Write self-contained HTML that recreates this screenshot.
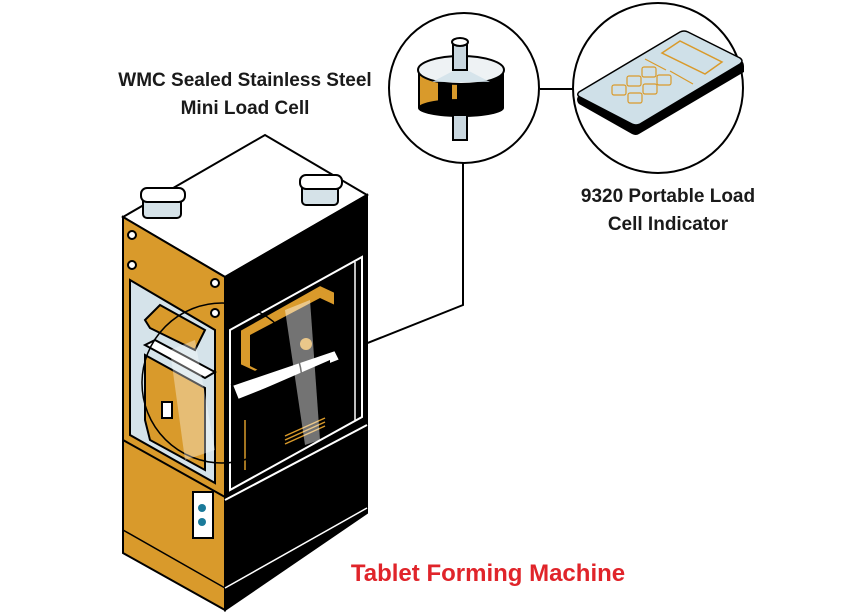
<!DOCTYPE html>
<html><head><style>
html,body{margin:0;padding:0;background:#fff;}
svg{display:block;}
text{font-family:"Liberation Sans",sans-serif;font-weight:bold;}
</style></head><body>
<svg width="852" height="613" viewBox="0 0 852 613" xmlns="http://www.w3.org/2000/svg">
<rect width="852" height="613" fill="#fff"/>
<text x="245" y="86" font-size="19" fill="#1a1a1a" text-anchor="middle">WMC Sealed Stainless Steel</text>
<text x="245" y="114" font-size="19" fill="#1a1a1a" text-anchor="middle">Mini Load Cell</text>
<text x="668" y="202" font-size="19" fill="#1a1a1a" text-anchor="middle">9320 Portable Load</text>
<text x="668" y="230" font-size="19" fill="#1a1a1a" text-anchor="middle">Cell Indicator</text>
<text x="488" y="581" font-size="24" fill="#e0242a" text-anchor="middle">Tablet Forming Machine</text>

<line x1="540" y1="89" x2="573" y2="89" stroke="#000" stroke-width="2"/>
<polyline points="463,163 463,305 355,348" fill="none" stroke="#000" stroke-width="2"/>

<!-- circle 1: load cell -->
<circle cx="464" cy="88" r="75" fill="#fff" stroke="#000" stroke-width="2"/>
<rect x="418" y="70" width="86" height="38" fill="#000"/>
<rect x="420" y="75" width="18" height="36" fill="#d99a2b"/>
<rect x="452" y="79" width="5" height="34" fill="#d99a2b"/>
<ellipse cx="461" cy="108" rx="43" ry="9" fill="#000"/>
<ellipse cx="461" cy="70" rx="43" ry="14" fill="#eef2f4" stroke="#000" stroke-width="2"/>
<polygon points="455,70 467,70 490,82 432,82" fill="#cfe0e8" opacity="0.8"/>
<rect x="453" y="115" width="14" height="25" fill="#c9d7df" stroke="#000" stroke-width="2"/>
<rect x="453" y="42" width="14" height="28" fill="#c9d7df" stroke="#000" stroke-width="2"/>
<ellipse cx="460" cy="42" rx="8" ry="4" fill="#fff" stroke="#000" stroke-width="2"/>

<!-- circle 2: indicator -->
<circle cx="658" cy="88" r="85" fill="#fff" stroke="#000" stroke-width="2"/>
<path d="M579,93 L680,33 Q684,31 688,33 L740,59 Q744,62 744,66 L744,72 L639,134 Q636,136 632,134 L579,104 Q577,102 577,99 Z" fill="#000"/>
<path d="M579,92 L680,32 Q684,30 688,32 L740,58 Q744,61 740,64 L640,124 Q636,126 632,124 L580,97 Q576,95 579,92 Z" fill="#cfe0e8" stroke="#000" stroke-width="1.5"/>
<polygon points="662,53 680,41 722,62 705,74" fill="none" stroke="#d99a2b" stroke-width="1.5"/>
<g fill="none" stroke="#d99a2b" stroke-width="1.2">
<rect x="612" y="85" width="14" height="10" rx="2"/>
<rect x="627" y="76" width="14" height="10" rx="2"/>
<rect x="642" y="67" width="14" height="10" rx="2"/>
<rect x="628" y="93" width="14" height="10" rx="2"/>
<rect x="643" y="84" width="14" height="10" rx="2"/>
<rect x="657" y="75" width="14" height="10" rx="2"/>
<line x1="645" y1="59" x2="666" y2="70"/>
<line x1="670" y1="71" x2="693" y2="84"/>
</g>

<!-- machine -->
<polygon points="123,217 265,135 367,195 225,277" fill="#fff" stroke="#000" stroke-width="2"/>
<rect x="143" y="196" width="38" height="22" rx="4" fill="#d5e2e8" stroke="#000" stroke-width="2"/>
<rect x="141" y="188" width="44" height="14" rx="6" fill="#fff" stroke="#000" stroke-width="2"/>
<rect x="302" y="183" width="36" height="22" rx="4" fill="#d5e2e8" stroke="#000" stroke-width="2"/>
<rect x="300" y="175" width="42" height="14" rx="6" fill="#fff" stroke="#000" stroke-width="2"/>
<polygon points="123,217 225,277 225,610 123,553" fill="#d99a2b" stroke="#000" stroke-width="2"/>
<polygon points="130,280 215,330 215,483 130,435" fill="#d5e3ea" stroke="#000" stroke-width="2"/>
<line x1="123" y1="440" x2="225" y2="497" stroke="#000" stroke-width="2"/>
<line x1="123" y1="530" x2="225" y2="588" stroke="#000" stroke-width="1.5"/>
<circle cx="132" cy="235" r="4" fill="#fff" stroke="#000" stroke-width="2"/>
<circle cx="132" cy="265" r="4" fill="#fff" stroke="#000" stroke-width="2"/>
<circle cx="215" cy="283" r="4" fill="#fff" stroke="#000" stroke-width="2"/>
<circle cx="215" cy="313" r="4" fill="#fff" stroke="#000" stroke-width="2"/>
<polygon points="145,355 205,388 205,470 150,440 145,420" fill="#d99a2b" stroke="#000" stroke-width="2"/>
<polygon points="145,345 205,378 215,372 155,340" fill="#fff" stroke="#000" stroke-width="2"/>
<polygon points="145,320 160,305 205,330 195,350 150,328" fill="#d99a2b" stroke="#000" stroke-width="2"/>
<rect x="162" y="402" width="10" height="16" fill="#fff" stroke="#000" stroke-width="2"/>
<rect x="193" y="492" width="20" height="46" fill="#fff" stroke="#000" stroke-width="2"/>
<circle cx="202" cy="508" r="4" fill="#1a7a9a"/>
<circle cx="202" cy="522" r="4" fill="#1a7a9a"/>
<polygon points="225,277 367,195 367,513 225,610" fill="#000" stroke="#000" stroke-width="2"/>
<polygon points="230,330 362,257 362,417 230,490" fill="#000" stroke="#fff" stroke-width="2"/>
<line x1="225" y1="500" x2="367" y2="425" stroke="#fff" stroke-width="2"/>
<line x1="225" y1="588" x2="367" y2="508" stroke="#fff" stroke-width="1.5"/>
<line x1="355" y1="262" x2="355" y2="420" stroke="#fff" stroke-width="1.5"/>
<polygon points="240,330 320,285 335,292 335,330 255,372 240,365" fill="#d99a2b" stroke="#000" stroke-width="2"/>
<polygon points="250,335 320,298 335,305 335,335 262,372 250,366" fill="#000"/>
<polygon points="232,385 335,350 340,360 238,400" fill="#fff" stroke="#000" stroke-width="2"/>
<polygon points="238,400 330,360 330,420 240,470" fill="#000"/>
<g stroke="#d99a2b" stroke-width="1.5">
<line x1="285" y1="440" x2="325" y2="422"/>
<line x1="285" y1="436" x2="325" y2="418"/>
<line x1="285" y1="444" x2="325" y2="426"/>
<line x1="245" y1="420" x2="245" y2="470"/>
</g>
<circle cx="306" cy="344" r="6" fill="#d99a2b"/>
<circle cx="222" cy="383" r="80" fill="none" stroke="#000" stroke-width="1.5"/>
<polygon points="170,350 195,340 215,450 185,460" fill="#fff" opacity="0.35"/>
<polygon points="285,310 310,300 320,440 305,445" fill="#fff" opacity="0.45"/>
</svg>
</body></html>
